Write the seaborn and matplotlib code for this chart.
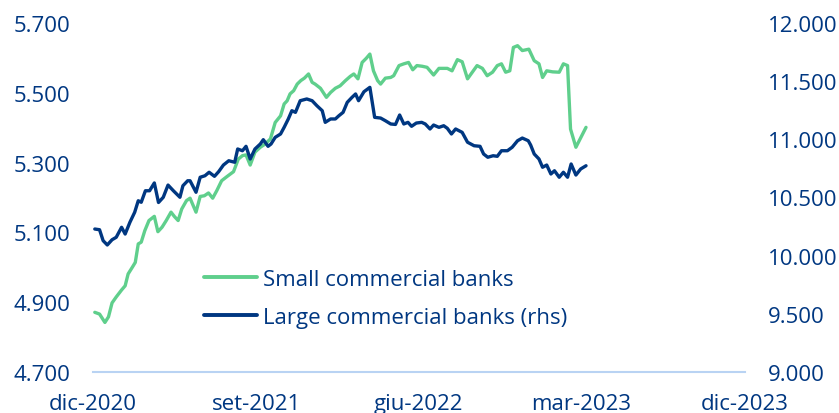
import numpy as np
import pandas as pd
import matplotlib
matplotlib.use("Agg")
import matplotlib.pyplot as plt
import seaborn as sns
from matplotlib.ticker import FuncFormatter, FixedLocator
from matplotlib.lines import Line2D

# ---------------- data ----------------
origin = "2020-12-01"  # day offsets below are counted from this date

small_days = [3, 11, 20, 26, 32, 39, 48, 54, 59, 66, 71, 76, 81, 87, 94, 103, 109, 116,
              123, 131, 137, 143, 149, 157, 163, 173, 180, 187, 194, 201, 208, 216, 225,
              236, 244, 251, 257, 264, 272, 281, 289, 298, 306, 315, 321, 326, 331, 337,
              343, 349, 355, 362, 368, 373, 382, 392, 399, 407, 415, 424, 432, 438, 445,
              452, 459, 465, 471, 478, 483, 491, 500, 505, 514, 522, 530, 537, 544, 553,
              561, 572, 581, 595, 603, 612, 620, 629, 637, 645, 654, 662, 671, 679, 686,
              693, 700, 706, 713, 721, 732, 741, 749, 755, 762, 772, 783, 790, 797, 802,
              811, 828]
small_vals = [4871, 4866, 4842, 4858, 4898, 4915, 4935, 4947, 4981, 5000, 5014, 5067,
              5072, 5105, 5134, 5146, 5102, 5115, 5134, 5158, 5145, 5134, 5167, 5191,
              5198, 5158, 5203, 5205, 5213, 5198, 5220, 5248, 5260, 5274, 5310, 5320,
              5322, 5293, 5330, 5344, 5353, 5368, 5415, 5434, 5468, 5477, 5497, 5506,
              5525, 5535, 5542, 5554, 5530, 5525, 5513, 5487, 5501, 5513, 5520, 5535,
              5547, 5554, 5540, 5587, 5599, 5611, 5563, 5535, 5525, 5542, 5544, 5549,
              5578, 5583, 5587, 5566, 5578, 5576, 5573, 5551, 5570, 5570, 5563, 5595,
              5589, 5540, 5559, 5578, 5570, 5549, 5559, 5578, 5583, 5559, 5563, 5630,
              5635, 5621, 5625, 5592, 5583, 5544, 5563, 5560, 5559, 5583, 5578, 5396,
              5344, 5401]

large_days = [3, 11, 17, 24, 32, 39, 48, 54, 62, 70, 76, 81, 88, 95, 103, 110, 118, 126,
              135, 146, 151, 159, 163, 173, 180, 188, 195, 204, 211, 219, 228, 238, 243,
              251, 257, 264, 272, 281, 286, 294, 299, 306, 315, 321, 328, 334, 340, 348,
              359, 368, 376, 385, 390, 399, 407, 413, 420, 427, 435, 441, 446, 455, 465,
              473, 483, 491, 500, 508, 515, 522, 529, 535, 543, 552, 558, 566, 572, 581,
              589, 595, 602, 609, 620, 629, 640, 650, 656, 663, 672, 679, 686, 696, 704,
              713, 721, 731, 735, 741, 749, 755, 762, 769, 775, 783, 790, 797, 803, 811,
              819, 828]
large_vals = [10229, 10223, 10129, 10092, 10137, 10158, 10244, 10186, 10287, 10373,
              10472, 10459, 10558, 10558, 10625, 10457, 10502, 10607, 10558, 10502,
              10601, 10644, 10644, 10545, 10674, 10687, 10717, 10682, 10722, 10779,
              10816, 10803, 10917, 10902, 10940, 10831, 10917, 10960, 10997, 10940,
              10960, 11017, 11046, 11103, 11175, 11246, 11232, 11332, 11347, 11332,
              11289, 11246, 11146, 11175, 11175, 11203, 11232, 11318, 11361, 11390,
              11332, 11409, 11447, 11189, 11183, 11160, 11132, 11128, 11209, 11132,
              11146, 11112, 11140, 11146, 11132, 11089, 11123, 11103, 11117, 11095,
              11046, 11089, 11060, 10975, 10945, 10940, 10874, 10846, 10859, 10854,
              10902, 10902, 10932, 10988, 11011, 10988, 10951, 10874, 10831, 10760,
              10779, 10702, 10730, 10674, 10717, 10674, 10788, 10693, 10745, 10773]

series_names = ["Small commercial banks", "Large commercial banks (rhs)"]
tick_dates = ["2020-12-01", "2021-09-01", "2022-06-01", "2023-03-01", "2023-12-01"]
tick_labels = ["dic-2020", "set-2021", "giu-2022", "mar-2023", "dic-2023"]
left_ticks = [4700, 4900, 5100, 5300, 5500, 5700]
right_ticks = [9000, 9500, 10000, 10500, 11000, 11500, 12000]

# ---------------- styling ----------------
GREEN = "#5fcf8c"
BLUE = "#003781"
AXIS = "#b9d3f3"
FONT = "Open Sans"
FS = 16

sns.set_theme(style="white")
plt.rcParams["font.family"] = [FONT, "DejaVu Sans"]

t0 = pd.Timestamp(origin)
df_small = pd.DataFrame({"date": t0 + pd.to_timedelta(small_days, unit="D"),
                         "value": small_vals})
df_large = pd.DataFrame({"date": t0 + pd.to_timedelta(large_days, unit="D"),
                         "value": large_vals})

fig = plt.figure(figsize=(8.39, 4.14), dpi=100)
ax = fig.add_axes([93 / 839, 1 - 373 / 414, 652 / 839, 349 / 414])
ax2 = ax.twinx()

sns.lineplot(data=df_small, x="date", y="value", ax=ax, color=GREEN, lw=2.4,
             legend=False)
sns.lineplot(data=df_large, x="date", y="value", ax=ax2, color=BLUE, lw=2.4,
             legend=False)

tick_ts = pd.to_datetime(tick_dates)
ax.set_xlim(tick_ts[0], tick_ts[-1])
ax.set_xticks(tick_ts)
ax.set_xticklabels(tick_labels)

ax.set_ylim(4700, 5700)
ax2.set_ylim(9000, 12000)
ax.yaxis.set_major_locator(FixedLocator(left_ticks))
ax2.yaxis.set_major_locator(FixedLocator(right_ticks))
fmt = FuncFormatter(lambda v, p: f"{v:,.0f}".replace(",", "."))
ax.yaxis.set_major_formatter(fmt)
ax2.yaxis.set_major_formatter(fmt)

for a in (ax, ax2):
    a.set_xlabel("")
    a.set_ylabel("")
    a.grid(False)
    for s in ("top", "left", "right", "bottom"):
        a.spines[s].set_visible(False)
    a.set_facecolor("none")

ax.spines["bottom"].set_visible(True)
ax.spines["bottom"].set_color(AXIS)
ax.spines["bottom"].set_linewidth(1.5)

ax.tick_params(axis="y", length=0, pad=16.5, labelsize=FS, labelcolor=BLUE)
ax2.tick_params(axis="y", length=0, pad=16.5, labelsize=FS, labelcolor=BLUE)
ax.tick_params(axis="x", length=0, pad=15, labelsize=FS, labelcolor=BLUE)

handles = [Line2D([0], [0], color=GREEN, lw=2.8), Line2D([0], [0], color=BLUE, lw=2.8)]
leg = ax.legend(handles, series_names, loc="center left",
                bbox_to_anchor=((204 - 93) / 652, (373 - 299.4) / 349),
                frameon=False, fontsize=FS, borderpad=0, borderaxespad=0,
                handlelength=2.4, handletextpad=0.25, labelspacing=0.77)
for t in leg.get_texts():
    t.set_color(BLUE)

fig.savefig("out.png", dpi=100)
